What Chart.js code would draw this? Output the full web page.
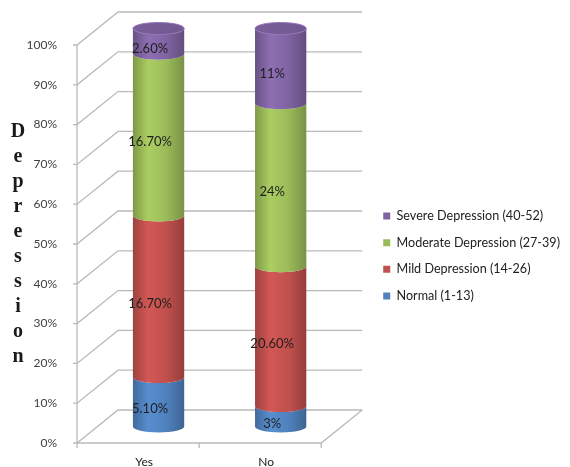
<!DOCTYPE html>
<html>
<head>
<meta charset="utf-8">
<script src="https://cdn.jsdelivr.net/npm/chart.js@4/dist/chart.umd.min.js"></script>
<style>
html, body { margin: 0; padding: 0; background: #fff; }
#wrap { width: 570px; height: 467px; }
</style>
</head>
<body>
<div id="wrap"><canvas id="depChart"></canvas></div>
<script>
// values as printed on the cylinders (each column is stacked to 100%)
const categories = ['Yes', 'No'];
const normal = [5.1, 3];
const mild = [16.7, 20.6];
const moderate = [16.7, 24];
const severe = [2.6, 11];
const seriesNames = ['Normal (1-13)', 'Mild Depression (14-26)', 'Moderate Depression (27-39)', 'Severe Depression (40-52)'];
const yTicks = [0, 10, 20, 30, 40, 50, 60, 70, 80, 90, 100];
const yTitle = 'Depression';

const colors = ['#4f81bd', '#c0504d', '#9bbb59', '#8064a2'];
const raw = [normal, mild, moderate, severe];
const totals = categories.map((c, i) => raw.reduce((s, arr) => s + arr[i], 0));
const pct = raw.map(arr => arr.map((v, i) => v / totals[i] * 100));

const DX = 41, DY = -33;   // depth of the 3d box

function shade(hex, f) {
    const n = parseInt(hex.slice(1), 16);
    const c = [n >> 16, (n >> 8) & 255, n & 255].map(v => Math.max(0, Math.min(255, Math.round(v * f))));
    return 'rgb(' + c.join(',') + ')';
}

function fmt(v) {
    return (Number.isInteger(v) ? v : v.toFixed(2)) + '%';
}

const cylinder3d = {
    id: 'cylinder3d',
    beforeDatasetsDraw(chart) {
        const { ctx, chartArea: a, scales: { x, y } } = chart;

        // walls, grid lines and floor
        ctx.save();
        ctx.strokeStyle = '#b9b9b9';
        ctx.lineWidth = 1.3;
        yTicks.forEach(v => {
            const py = y.getPixelForValue(v);
            ctx.beginPath();
            ctx.moveTo(a.left - 4, py);
            ctx.lineTo(a.left, py);
            ctx.lineTo(a.left + DX, py + DY);
            ctx.lineTo(a.right + DX, py + DY);
            ctx.stroke();
        });
        ctx.beginPath();
        ctx.moveTo(a.left, a.top);
        ctx.lineTo(a.left, a.bottom);
        ctx.lineTo(a.right, a.bottom);
        ctx.lineTo(a.right + DX, a.bottom + DY);
        ctx.stroke();
        [a.left, (a.left + a.right) / 2, a.right].forEach(px => {
            ctx.beginPath();
            ctx.moveTo(px, a.bottom);
            ctx.lineTo(px, a.bottom + 5);
            ctx.stroke();
        });
        ctx.restore();

        // cylinders
        const ox = DX / 2, oy = DY / 2, ry = 6;
        categories.forEach((c, i) => {
            let last = null;
            chart.data.datasets.forEach((ds, d) => {
                const bar = chart.getDatasetMeta(d).data[i];
                const p = bar.getProps(['x', 'y', 'base', 'width'], true);
                const cx = p.x + ox, top = p.y + oy, base = p.base + oy;
                const rx = p.width / 2, L = cx - rx, R = cx + rx;
                const col = colors[d];
                const g = ctx.createLinearGradient(L, 0, R, 0);
                g.addColorStop(0, shade(col, 0.82));
                g.addColorStop(0.3, shade(col, 1.1));
                g.addColorStop(0.65, shade(col, 1.0));
                g.addColorStop(1, shade(col, 0.78));
                ctx.save();
                ctx.beginPath();
                ctx.moveTo(L, top);
                ctx.lineTo(L, base);
                ctx.ellipse(cx, base, rx, ry, 0, Math.PI, 0, true);
                ctx.lineTo(R, top);
                ctx.ellipse(cx, top, rx, ry, 0, 0, Math.PI, false);
                ctx.closePath();
                ctx.fillStyle = g;
                ctx.fill();
                ctx.restore();
                last = { cx, top, rx, col };
            });
            // top cap
            const cg = ctx.createLinearGradient(last.cx - last.rx, 0, last.cx + last.rx, 0);
            cg.addColorStop(0, shade(last.col, 0.95));
            cg.addColorStop(1, shade(last.col, 0.88));
            ctx.save();
            ctx.beginPath();
            ctx.ellipse(last.cx, last.top, last.rx, ry, 0, 0, Math.PI * 2);
            ctx.fillStyle = cg;
            ctx.fill();
            ctx.strokeStyle = shade(last.col, 1.15);
            ctx.lineWidth = 1;
            ctx.stroke();
            ctx.restore();
        });

        // value labels
        ctx.save();
        ctx.font = '13px Lato';
        ctx.fillStyle = '#1f1f1f';
        ctx.textAlign = 'center';
        ctx.textBaseline = 'middle';
        chart.data.datasets.forEach((ds, d) => {
            chart.getDatasetMeta(d).data.forEach((bar, i) => {
                const p = bar.getProps(['x', 'y', 'base'], true);
                ctx.fillText(fmt(raw[d][i]), p.x + 12, (p.y + p.base) / 2 - 9);
            });
        });
        ctx.restore();
        return false;
    },
    afterDraw(chart) {
        // vertical stacked title on the left
        const { ctx, chartArea: a } = chart;
        const mid = (a.top + a.bottom) / 2;
        const step = 25;
        ctx.save();
        ctx.font = 'bold 20px "Liberation Serif"';
        ctx.fillStyle = '#1a1a1a';
        ctx.textAlign = 'center';
        ctx.textBaseline = 'middle';
        yTitle.split('').forEach((ch, k) => {
            ctx.fillText(ch, 18, mid + (k - (yTitle.length - 1) / 2) * step);
        });
        ctx.restore();
    }
};

const ctx = document.getElementById('depChart').getContext('2d');
const depChart = new Chart(ctx, {
    type: 'bar',
    data: {
        labels: categories,
        datasets: seriesNames.map((name, d) => ({
            label: name,
            data: pct[d],
            backgroundColor: colors[d],
            borderWidth: 0,
            barPercentage: 0.42,
            categoryPercentage: 1
        }))
    },
    options: {
        responsive: true,
        maintainAspectRatio: false,
        animation: false,
        layout: { padding: { top: 45, left: 0, right: 0, bottom: 0 } },
        plugins: {
            legend: {
                position: 'right',
                reverse: true,
                maxWidth: 210,
                labels: {
                    boxWidth: 7,
                    boxHeight: 7,
                    padding: 14,
                    color: '#222',
                    font: { family: 'Lato', size: 12.6 }
                }
            },
            tooltip: { enabled: false }
        },
        scales: {
            x: {
                stacked: true,
                grid: { display: false },
                border: { display: false },
                ticks: {
                    color: '#222',
                    padding: 4,
                    labelOffset: 6,
                    font: { family: 'Lato', size: 12 }
                },
                afterFit: s => { s.height = 24; }
            },
            y: {
                stacked: true,
                min: 0,
                max: 100,
                grid: { display: false },
                border: { display: false },
                ticks: {
                    stepSize: 10,
                    padding: 12,
                    color: '#404040',
                    font: { family: 'Lato', size: 12 },
                    callback: v => v + '%'
                },
                afterFit: s => { s.width = 77; }
            },
            depth: {
                position: 'right',
                display: true,
                grid: { display: false },
                border: { display: false },
                ticks: { display: false },
                afterFit: s => { s.width = 48; }
            }
        }
    },
    plugins: [cylinder3d]
});
</script>
</body>
</html>
